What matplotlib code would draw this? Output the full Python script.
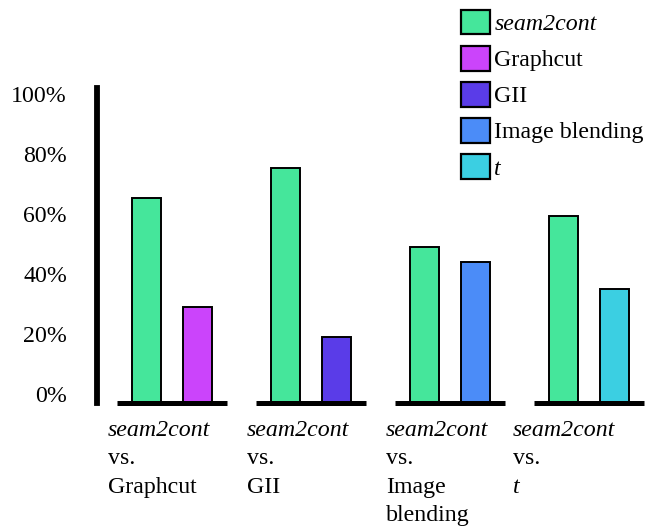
import matplotlib
matplotlib.use("Agg")
import matplotlib.pyplot as plt
from matplotlib.patches import Patch
import numpy as np

plt.rcParams['font.family'] = ['Liberation Serif', 'DejaVu Serif']

methods = ["seam2cont", "Graphcut", "GII", "Image blending", "t"]
colors = ["#45E69B", "#CB44FB", "#5A3CE8", "#4B8CF8", "#3BCFE2"]
ours = [68, 78, 52, 62]          # seam2cont share in each comparison
theirs = [32, 22, 47, 38]        # competing method share
rivals = ["Graphcut", "GII", "Image\nblending", "t"]
yticks = [0, 20, 40, 60, 80, 100]

FS = 17.2
fig = plt.figure(figsize=(6.57, 5.26), dpi=100)
ax = fig.add_axes([97 / 657, 123 / 526, 560 / 657, 315 / 526])

x = np.arange(len(ours))
w = 0.209
off = 0.183
ax.bar(x - off, ours, w, color=colors[0], edgecolor="black", linewidth=1.4, zorder=2)
ax.bar(x + off, theirs, w, color=colors[1:], edgecolor="black", linewidth=1.4, zorder=2)
ax.hlines(np.zeros(len(x)), x - 0.396, x + 0.396, color="black", linewidth=3.6,
          clip_on=False, zorder=3)

ax.set_xlim(-0.54, 3.49)
ax.set_ylim(0, 104.7)
for s in ["top", "right", "bottom"]:
    ax.spines[s].set_visible(False)
ax.spines["left"].set_linewidth(4.2)
ax.set_xticks([])
ax.set_yticks([])

# y labels sit a little above their value
ytr = ax.get_yaxis_transform()
for v in yticks:
    ax.annotate(f"{v}%", xy=(0, v), xycoords=ytr, xytext=(-30, 6),
                textcoords="offset pixels", ha="right", va="center", fontsize=FS)

# group labels under each pair
shift = [0, 0, 0, -12]
for i, r in enumerate(rivals):
    lines = [("seam2cont", "italic"), ("vs.", "normal")]
    for part in r.split("\n"):
        lines.append((part, "italic" if part == "t" else "normal"))
    for j, (txt, st) in enumerate(lines):
        ax.annotate(txt, xy=(i, 0), xytext=(-64 + shift[i], -33 - 28.5 * j),
                    textcoords="offset pixels", ha="left", va="baseline",
                    fontsize=FS, fontstyle=st, annotation_clip=False)

handles = [Patch(facecolor=c, edgecolor="black", linewidth=1.6) for c in colors]
leg = fig.legend(handles, methods, loc="upper left",
                 bbox_to_anchor=(461 / 657, 1 - 10 / 526), frameon=False,
                 fontsize=FS, handlelength=1.2, handleheight=1.2,
                 handletextpad=0.2, labelspacing=0.45, borderpad=0,
                 borderaxespad=0)
leg.get_texts()[0].set_fontstyle("italic")
leg.get_texts()[4].set_fontstyle("italic")

fig.savefig("out.png", dpi=100)
